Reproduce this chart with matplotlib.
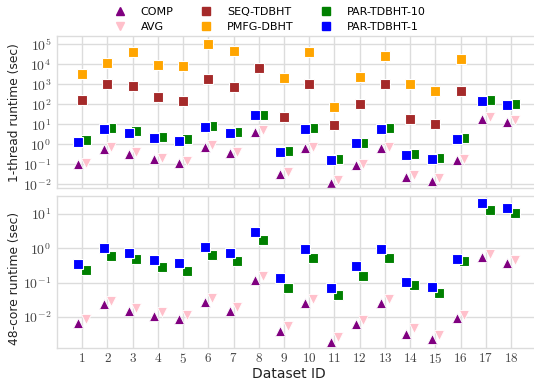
import numpy as np
import matplotlib
matplotlib.use("Agg")
import matplotlib.pyplot as plt
from matplotlib.lines import Line2D

plt.rcParams['mathtext.fontset'] = 'cm'
plt.rcParams['font.family'] = ['DejaVu Sans']

datasets = list(range(1, 19))
nan = np.nan

# 1-thread runtimes (sec)
t1_comp = [0.10, 0.58, 0.33, 0.18, 0.11, 0.74, 0.35, 4.0, 0.032, 0.63, 0.012, 0.089, 0.63, 0.024, 0.015, 0.165, 18.5, 13]
t1_avg = [0.12, 0.74, 0.40, 0.21, 0.14, 0.93, 0.41, 5.2, 0.040, 0.76, 0.017, 0.108, 0.76, 0.030, 0.020, 0.19, 22, 16]
t1_seq = [160, 1050, 860, 240, 150, 1780, 740, 6800, 24, 1080, 9.3, 100, 1070, 19, 10.4, 480, nan, nan]
t1_pmfg = [3400, 11700, 41000, 9600, 8300, 108000, 45000, nan, 2000, 41000, 76, 2400, 26000, 1000, 467, 17800, nan, nan]
t1_par10 = [1.6, 6.3, 4.5, 2.4, 1.78, 8.0, 4.3, 29, 0.45, 6.3, 0.19, 1.2, 6.3, 0.33, 0.21, 2.1, 158, 104]
t1_par1 = [1.36, 5.8, 3.5, 2.15, 1.5, 7.1, 3.7, 28, 0.41, 5.8, 0.17, 1.12, 5.8, 0.29, 0.19, 1.78, 152, 93]

# 48-core runtimes (sec)
t48_comp = [0.0069, 0.024, 0.015, 0.0104, 0.0085, 0.027, 0.015, 0.118, 0.0038, 0.025, 0.0019, 0.0063, 0.025, 0.0033, 0.0023, 0.0093, 0.57, 0.37]
t48_avg = [0.0085, 0.030, 0.018, 0.014, 0.0118, 0.035, 0.019, 0.158, 0.0056, 0.034, 0.0026, 0.0083, 0.033, 0.0049, 0.0030, 0.0118, 0.69, 0.46]
t48_par10 = [0.23, 0.59, 0.48, 0.28, 0.22, 0.63, 0.44, 1.7, 0.072, 0.54, 0.045, 0.16, 0.54, 0.085, 0.050, 0.44, 12.7, 10.4]
t48_par1 = [0.35, 1.0, 0.73, 0.47, 0.37, 1.1, 0.73, 2.9, 0.14, 0.98, 0.072, 0.30, 0.98, 0.105, 0.077, 0.48, 21, 14.8]

C_COMP = '#800080'
C_AVG = '#FFC0CB'
C_SEQ = '#A52A2A'
C_PMFG = '#FFA500'
C_PAR10 = '#008000'
C_PAR1 = '#0000FF'

W, H = 534, 381
fig = plt.figure(figsize=(W / 100, H / 100), dpi=100)

def ax_at(left, top, right, bottom):
    return fig.add_axes([left / W, 1 - bottom / H, (right - left) / W, (bottom - top) / H])

x_right = 57 + 19 * 25.22
ax1 = ax_at(57, 36, x_right, 188.3)
ax2 = ax_at(57, 195.7, x_right, 348.3)
axw = x_right - 57
axh = 348.3 - 195.7

x = np.array(datasets, dtype=float)
off = 0.15
sq = dict(marker='s', markersize=7, markeredgecolor='white', markeredgewidth=0.8, linestyle='none')
tri = dict(markersize=6.5, markeredgecolor='white', markeredgewidth=0.6, linestyle='none')

ax1.plot(x - off, t1_comp, marker='^', color=C_COMP, **tri)
ax1.plot(x + off, t1_avg, marker='v', color=C_AVG, **tri)
ax1.plot(x, t1_seq, color=C_SEQ, **sq)
ax1.plot(x, t1_pmfg, color=C_PMFG, **sq)
ax1.plot(x + off, t1_par10, color=C_PAR10, **sq)
ax1.plot(x - off, t1_par1, color=C_PAR1, **sq)

ax2.plot(x - off, t48_comp, marker='^', color=C_COMP, **tri)
ax2.plot(x + off, t48_avg, marker='v', color=C_AVG, **tri)
ax2.plot(x + off, t48_par10, color=C_PAR10, **sq)
ax2.plot(x - off, t48_par1, color=C_PAR1, **sq)

for ax in (ax1, ax2):
    ax.set_yscale('log')
    ax.set_xlim(0, 19)
    ax.set_facecolor('white')
    ax.grid(True, which='major', color='#dcdcdc', linewidth=1.0)
    ax.minorticks_off()
    ax.set_axisbelow(True)
    for s in ax.spines.values():
        s.set_color('#dcdcdc')
        s.set_linewidth(1.0)
    ax.tick_params(length=0, pad=4, labelsize=10, labelcolor='#444444')
    ax.set_xticks(datasets)

ax2.tick_params(axis='x', pad=2.5, labelsize=9.5)

ax1.set_ylim(10 ** -2.2, 10 ** 5.415)
e1 = list(range(-2, 6))
ax1.set_yticks([10.0 ** e for e in e1])
ax1.set_yticklabels([f'$10^{{{e}}}$' for e in e1])
ax1.set_xticklabels([])

ax2.set_ylim(10 ** -2.91, 10 ** 1.533)
e2 = list(range(-2, 2))
ax2.set_yticks([10.0 ** e for e in e2])
ax2.set_yticklabels([f'$10^{{{e}}}$' for e in e2])
ax2.set_xticklabels([f'${d}$' for d in datasets])

ax1.set_ylabel('1-thread runtime (sec)', fontsize=8.8, color='#222222')
ax2.set_ylabel('48-core runtime (sec)', fontsize=8.8, color='#222222')
ax2.set_xlabel('Dataset ID', fontsize=10, color='#222222')
ax1.yaxis.set_label_coords(-(57 - 21) / axw, 0.5)
ax2.yaxis.set_label_coords(-(57 - 21) / axw, 0.46)
ax2.xaxis.set_label_coords((289 - 57) / axw, -(366.5 - 348.3) / axh)

handles = [
    Line2D([], [], marker='^', color=C_COMP, linestyle='none', markersize=6, label='COMP'),
    Line2D([], [], marker='v', color=C_AVG, linestyle='none', markersize=6, label='AVG'),
    Line2D([], [], marker='s', color=C_SEQ, linestyle='none', markersize=6, label='SEQ-TDBHT'),
    Line2D([], [], marker='s', color=C_PMFG, linestyle='none', markersize=6, label='PMFG-DBHT'),
    Line2D([], [], marker='s', color=C_PAR10, linestyle='none', markersize=6, label='PAR-TDBHT-10'),
    Line2D([], [], marker='s', color=C_PAR1, linestyle='none', markersize=6, label='PAR-TDBHT-1'),
]
fig.legend(handles=handles, ncol=3, frameon=False, fontsize=8,
           loc='center', bbox_to_anchor=(270 / W, 1 - 19.5 / H),
           columnspacing=2.4, handletextpad=1.4, labelspacing=0.45, handlelength=1.0)

fig.savefig('out.png', dpi=100, facecolor='white')
